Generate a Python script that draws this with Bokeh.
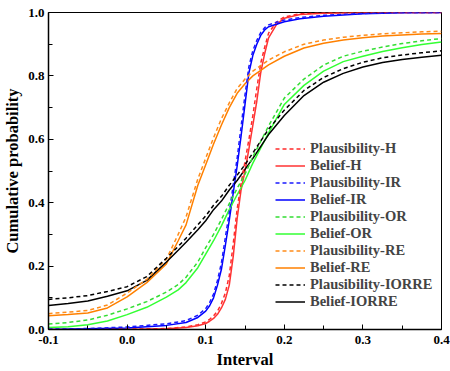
from bokeh.plotting import figure
from bokeh.models import FixedTicker, PrintfTickFormatter, Legend, LegendItem, Range1d
from bokeh.embed import file_html
from bokeh.resources import INLINE

# x grid for the steep curves (H, IR)
x_fine = [-0.1, -0.05, 0.0, 0.05, 0.075, 0.09, 0.1, 0.105, 0.11, 0.115, 0.12, 0.125, 0.13,
          0.135, 0.14, 0.145, 0.15, 0.155, 0.16, 0.165, 0.17, 0.175, 0.18, 0.19, 0.2,
          0.22, 0.25, 0.3, 0.35, 0.4]
bel_h = [0.0, 0.0, 0.0, 0.002, 0.006, 0.012, 0.019, 0.026, 0.035, 0.048, 0.068, 0.095, 0.14,
         0.23, 0.35, 0.44, 0.50, 0.57, 0.645, 0.72, 0.81, 0.87, 0.92, 0.962, 0.982,
         0.994, 0.998, 1.0, 1.0, 1.0]
pl_h = [0.0, 0.0, 0.001, 0.003, 0.008, 0.015, 0.024, 0.032, 0.043, 0.058, 0.082, 0.115, 0.17,
        0.27, 0.38, 0.46, 0.53, 0.60, 0.675, 0.76, 0.84, 0.89, 0.935, 0.97, 0.986,
        0.996, 0.999, 1.0, 1.0, 1.0]
bel_ir = [0.0, 0.002, 0.005, 0.013, 0.022, 0.038, 0.058, 0.075, 0.10, 0.14, 0.19, 0.265, 0.345,
          0.43, 0.515, 0.61, 0.71, 0.81, 0.865, 0.90, 0.928, 0.945, 0.955, 0.963, 0.971,
          0.98, 0.988, 0.996, 0.999, 1.0]
pl_ir = [0.001, 0.003, 0.008, 0.018, 0.028, 0.045, 0.066, 0.085, 0.112, 0.155, 0.21, 0.29, 0.37,
         0.455, 0.54, 0.64, 0.74, 0.83, 0.88, 0.912, 0.937, 0.952, 0.961, 0.969, 0.976,
         0.984, 0.991, 0.997, 1.0, 1.0]

# x grid for the wider curves (OR, RE, IORRE)
x_wide = [-0.1, -0.075, -0.05, -0.025, 0.0, 0.025, 0.05, 0.065, 0.075, 0.09, 0.1, 0.11, 0.12,
          0.13, 0.14, 0.15, 0.16, 0.18, 0.2, 0.225, 0.25, 0.275, 0.3, 0.325, 0.35, 0.375, 0.4]
bel_or = [0.006, 0.009, 0.015, 0.027, 0.047, 0.07, 0.102, 0.125, 0.148, 0.195, 0.238, 0.28, 0.327,
          0.378, 0.425, 0.47, 0.525, 0.62, 0.71, 0.77, 0.815, 0.845, 0.862, 0.877, 0.889, 0.899, 0.907]
pl_or = [0.017, 0.022, 0.03, 0.045, 0.065, 0.088, 0.118, 0.142, 0.165, 0.213, 0.258, 0.30, 0.347,
         0.397, 0.445, 0.49, 0.545, 0.642, 0.73, 0.79, 0.834, 0.862, 0.878, 0.891, 0.902, 0.911, 0.918]
bel_re = [0.043, 0.047, 0.052, 0.068, 0.103, 0.148, 0.207, 0.28, 0.33, 0.455, 0.52, 0.585, 0.645,
          0.70, 0.745, 0.775, 0.80, 0.835, 0.862, 0.888, 0.903, 0.913, 0.92, 0.926, 0.929, 0.932, 0.934]
pl_re = [0.05, 0.055, 0.06, 0.077, 0.115, 0.158, 0.222, 0.30, 0.355, 0.475, 0.54, 0.605, 0.665,
         0.715, 0.76, 0.79, 0.815, 0.85, 0.876, 0.90, 0.913, 0.922, 0.928, 0.933, 0.936, 0.939, 0.941]
bel_io = [0.076, 0.082, 0.09, 0.105, 0.122, 0.155, 0.213, 0.25, 0.275, 0.315, 0.343, 0.378, 0.405,
          0.44, 0.47, 0.505, 0.54, 0.615, 0.675, 0.738, 0.78, 0.808, 0.828, 0.842, 0.852, 0.859, 0.865]
pl_io = [0.095, 0.10, 0.107, 0.12, 0.135, 0.167, 0.225, 0.262, 0.288, 0.33, 0.358, 0.392, 0.42,
         0.455, 0.487, 0.52, 0.557, 0.632, 0.692, 0.754, 0.795, 0.823, 0.843, 0.857, 0.866, 0.873, 0.879]

x_ticks = [-0.1, 0.0, 0.1, 0.2, 0.3, 0.4]
x_minor = [-0.05, 0.05, 0.15, 0.25, 0.35]
y_ticks = [0.0, 0.2, 0.4, 0.6, 0.8, 1.0]
y_minor = [0.1, 0.3, 0.5, 0.7, 0.9]

FONT = "Liberation Serif"

p = figure(width=450, height=371, x_range=Range1d(-0.1, 0.4), y_range=Range1d(0, 1),
           output_backend="svg", toolbar_location=None,
           min_border_left=48, min_border_right=9, min_border_top=12, min_border_bottom=40)
p.xgrid.visible = False
p.ygrid.visible = False
p.outline_line_color = "black"
p.outline_line_width = 1

series = [
    ("Plausibility-H", x_fine, pl_h, "#ff2a2a", "dashed"),
    ("Belief-H", x_fine, bel_h, "#ff3333", "solid"),
    ("Plausibility-IR", x_fine, pl_ir, "#1a1aff", "dashed"),
    ("Belief-IR", x_fine, bel_ir, "#0000ff", "solid"),
    ("Plausibility-OR", x_wide, pl_or, "#33dd33", "dashed"),
    ("Belief-OR", x_wide, bel_or, "#33ff33", "solid"),
    ("Plausibility-RE", x_wide, pl_re, "#ff8c1a", "dashed"),
    ("Belief-RE", x_wide, bel_re, "#ff8000", "solid"),
    ("Plausibility-IORRE", x_wide, pl_io, "#000000", "dashed"),
    ("Belief-IORRE", x_wide, bel_io, "#000000", "solid"),
]

renderers = {}
# draw solids first, then dashed on top
for name, xs, ys, col, dash in sorted(series, key=lambda s: 0 if s[4] == "solid" else 1):
    r = p.line(xs, ys, line_color=col, line_width=1.5,
               line_dash=("4 3" if dash == "dashed" else "solid"))
    renderers[name] = r

items = [LegendItem(label=s[0], renderers=[renderers[s[0]]]) for s in series]
legend = Legend(items=items, location=(227, 19))
legend.padding = 0
legend.margin = 0
legend.border_line_alpha = 0
legend.background_fill_alpha = 0
legend.glyph_width = 30
legend.glyph_height = 15
legend.label_height = 15
legend.spacing = 0
legend.label_standoff = 5
legend.label_text_font = FONT
legend.label_text_font_style = "bold"
legend.label_text_font_size = "14.5px"
p.add_layout(legend)

for ax in (p.xaxis[0], p.yaxis[0]):
    ax.major_label_text_font = FONT
    ax.major_label_text_font_style = "bold"
    ax.major_label_text_font_size = "13px"
    ax.major_label_text_color = "black"
    ax.axis_label_text_font = FONT
    ax.axis_label_text_font_style = "bold"
    ax.axis_label_text_font_size = "16.5px"
    ax.axis_label_text_color = "black"
    ax.axis_line_width = 1.5
    ax.axis_line_color = "black"
    ax.major_tick_in = 5
    ax.major_tick_out = 0
    ax.minor_tick_in = 4
    ax.minor_tick_out = 0
    ax.major_tick_line_color = "black"
    ax.minor_tick_line_color = "black"
    ax.formatter = PrintfTickFormatter(format="%.1f")

p.xaxis[0].ticker = FixedTicker(ticks=x_ticks, minor_ticks=x_minor)
p.yaxis[0].ticker = FixedTicker(ticks=y_ticks, minor_ticks=y_minor)
p.xaxis[0].axis_label = "Interval"
p.yaxis[0].axis_label = "Cumulative probability"
p.xaxis[0].major_label_standoff = 6
p.xaxis[0].axis_label_standoff = 3
p.yaxis[0].major_label_standoff = 4
p.yaxis[0].axis_label_standoff = 3

open("out.html", "w").write(file_html(p, INLINE))
